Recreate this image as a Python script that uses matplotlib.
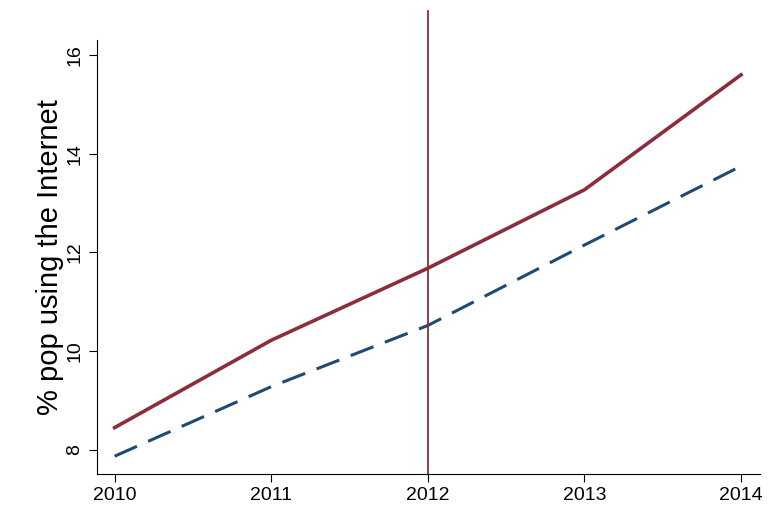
import matplotlib.pyplot as plt

plt.rcParams['font.family'] = ['Liberation Sans', 'DejaVu Sans']

years = [2010, 2011, 2012, 2013, 2014]
treated = [8.45, 10.22, 11.68, 13.27, 15.6]
control = [7.87, 9.28, 10.52, 12.15, 13.75]
event_year = 2012

fig = plt.figure(figsize=(7.73, 5.27), dpi=100)
ax = fig.add_axes([0.125, 0.1006, 0.858, 0.823])

ax.plot(years, treated, color="#8c2d3c", lw=2.6)
ax.plot(years, control, color="#1f4a73", lw=2.2, dashes=(8, 4))
ax.plot([event_year, event_year], [7.51, 16.9], color="#8c2d3c", lw=1.3, clip_on=False)

ax.set_xlim(2009.885, 2014.12)
ax.set_ylim(7.51, 16.3)
ax.set_xticks(years)
ax.set_yticks([8, 10, 12, 14, 16])
for lab in ax.get_yticklabels():
    lab.set_rotation(90)
    lab.set_va("center")
ax.tick_params(labelsize=14, length=6)
ax.set_ylabel("% pop using the Internet", fontsize=21, labelpad=2)
ax.spines["top"].set_visible(False)
ax.spines["right"].set_visible(False)

fig.savefig("out.png")
